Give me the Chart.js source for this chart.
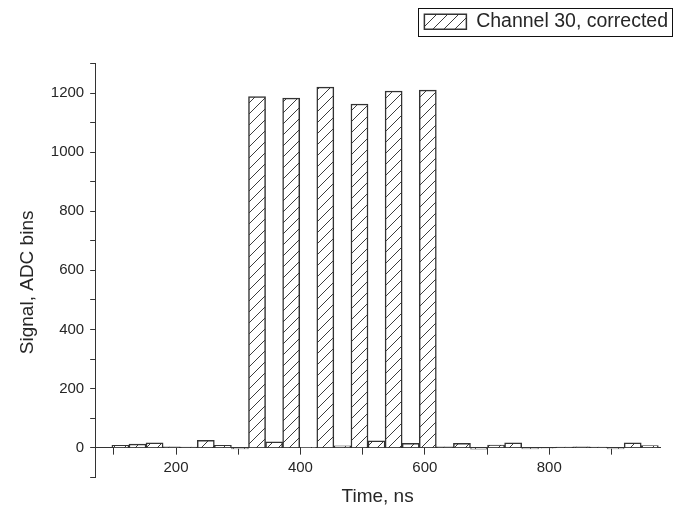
<!DOCTYPE html>
<html lang="en">
<head>
  <meta charset="UTF-8">
  <title>Channel 30, corrected</title>
  <script src="https://cdn.jsdelivr.net/npm/chart.js"></script>
  <style>
    body {
      margin: 0;
      background: #fff;
    }
    .chart-box {
      width: 677px;
      height: 508px;
      position: relative;
    }
  </style>
</head>
<body>
  <div class="chart-box">
    <canvas id="signal-chart"></canvas>
  </div>
  <script>
    // bin centres (ns) and corrected signal (ADC bins)
    const binCenters = [
      110.6, 138.05, 165.5, 192.95, 220.4, 247.85, 275.3, 302.75,
      330.2, 357.65, 385.1, 412.55, 440.0, 467.45, 494.9, 522.35,
      549.8, 577.25, 604.7, 632.15, 659.6, 687.05, 714.5, 741.95,
      769.4, 796.85, 824.3, 851.75, 879.2, 906.65, 934.1, 961.55
    ];
    const signal = [
      8, 12, 16, 3, 2, 25, 8, -4,
      1188, 20, 1183, 1, 1220, 6, 1163, 23,
      1207, 15, 1210, 3, 15, -5, 9, 16,
      -4, -2, 2, 3, 2, -4, 16, 7
    ];
    const xTicks = [100, 200, 300, 400, 500, 600, 700, 800, 900];
    const seriesLabel = 'Channel 30, corrected';
    const xTitle = 'Time, ns';
    const yTitle = 'Signal, ADC bins';

    const font = "'Liberation Sans', Arial, sans-serif";
    const ink = '#262626';

    function makeHatch() {
      const s = 11;
      const c = document.createElement('canvas');
      c.width = s; c.height = s;
      const g = c.getContext('2d');
      g.fillStyle = '#fff';
      g.fillRect(0, 0, s, s);
      g.strokeStyle = '#3c3c3c';
      g.lineWidth = 1;
      g.beginPath();
      g.moveTo(-1, s + 1); g.lineTo(s + 1, -1);
      g.moveTo(-1, 1); g.lineTo(1, -1);
      g.moveTo(s - 1, s + 1); g.lineTo(s + 1, s - 1);
      g.stroke();
      return g.createPattern(c, 'repeat');
    }

    // x axis sits on y = 0 like in Origin; legend goes to the top right corner
    const originLook = {
      id: 'originLook',
      afterLayout(chart) {
        const xs = chart.scales.x;
        const ys = chart.scales.y;
        const d = xs.top - ys.getPixelForValue(0);
        xs.top -= d; xs.bottom -= d;
        const lg = chart.legend;
        lg.left += 18; lg.right += 18;
        lg.top -= 22; lg.bottom -= 22;
        if (!ys._titleMoved) {
          // y title is centred a bit lower in the original
          const drawTitle = ys.drawTitle;
          ys.drawTitle = function () {
            this.top += 24;
            drawTitle.call(this);
            this.top -= 24;
          };
          ys._titleMoved = true;
        }
      },
      afterDraw(chart) {
        const h = chart.legend.legendHitBoxes[0];
        if (!h) return;
        const ctx = chart.ctx;
        ctx.save();
        ctx.strokeStyle = '#111';
        ctx.lineWidth = 1;
        ctx.strokeRect(Math.round(h.left - 6) + 0.5, Math.round(h.top - 4) + 0.5,
          Math.round(h.width + 10), Math.round(h.height + 8));
        ctx.restore();
      }
    };

    const tickEvery200 = v => (v % 200 === 0 ? v : '');

    new Chart(document.getElementById('signal-chart'), {
      type: 'bar',
      data: {
        datasets: [{
          label: seriesLabel,
          data: binCenters.map((x, i) => ({ x, y: signal[i] })),
          backgroundColor: makeHatch(),
          borderColor: '#333',
          borderWidth: 1.5,
          barPercentage: 1,
          categoryPercentage: 1
        }]
      },
      options: {
        responsive: true,
        maintainAspectRatio: false,
        animation: false,
        layout: { padding: { left: 12, right: 17, top: 24, bottom: -34 } },
        plugins: {
          tooltip: { enabled: false },
          legend: {
            position: 'top',
            align: 'end',
            labels: {
              boxWidth: 42,
              boxHeight: 15,
              padding: 10,
              color: ink,
              font: { family: font, size: 19.5 }
            }
          }
        },
        scales: {
          x: {
            type: 'linear',
            position: 'bottom',
            min: 70,
            max: 978,
            offset: false,
            afterBuildTicks: s => { s.ticks = xTicks.map(v => ({ value: v })); },
            grid: { drawOnChartArea: false, tickLength: 7, tickColor: '#333', offset: false },
            border: { color: '#333', width: 1 },
            ticks: {
              maxRotation: 0,
              autoSkip: false,
              padding: 4,
              color: ink,
              font: { family: font, size: 15 },
              callback: tickEvery200
            },
            title: {
              display: true,
              text: xTitle,
              color: ink,
              padding: { top: 5, bottom: 4 },
              font: { family: font, size: 19 }
            }
          },
          y: {
            min: -100,
            max: 1300,
            grid: { drawOnChartArea: false, tickLength: 5, tickColor: '#333' },
            border: { color: '#333', width: 1 },
            ticks: {
              stepSize: 100,
              autoSkip: false,
              padding: 6,
              color: ink,
              font: { family: font, size: 15 },
              callback: tickEvery200
            },
            title: {
              display: true,
              text: yTitle,
              color: ink,
              padding: { top: 4, bottom: 6 },
              font: { family: font, size: 19 }
            }
          }
        }
      },
      plugins: [originLook]
    });
  </script>
</body>
</html>
